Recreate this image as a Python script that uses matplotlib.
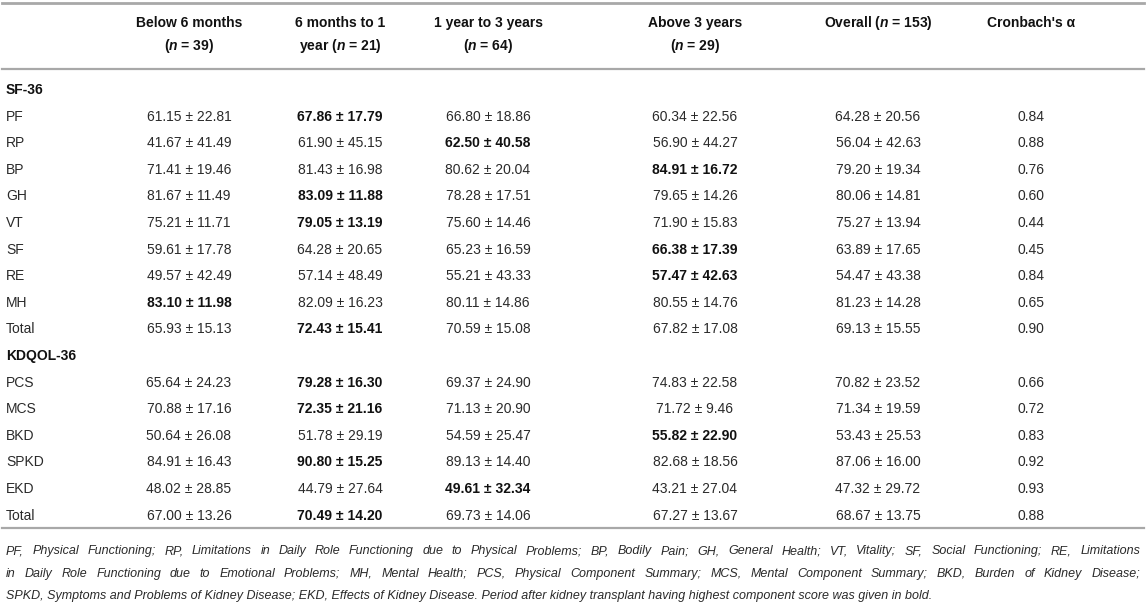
import matplotlib
matplotlib.use('Agg')
import matplotlib.pyplot as plt
from matplotlib.lines import Line2D

plt.rcParams['font.family'] = ['Liberation Sans', 'DejaVu Sans']
plt.rcParams['mathtext.fontset'] = 'custom'
plt.rcParams['mathtext.rm'] = 'Liberation Sans:bold'
plt.rcParams['mathtext.it'] = 'Liberation Sans:italic:bold'
plt.rcParams['mathtext.bf'] = 'Liberation Sans:bold'

# ---------------- data ----------------
column_headers = [
    ["Below 6 months", r"($\it{n}$ = 39)"],
    ["6 months to 1", r"year ($\it{n}$ = 21)"],
    ["1 year to 3 years", r"($\it{n}$ = 64)"],
    ["Above 3 years", r"($\it{n}$ = 29)"],
    [r"Overall ($\it{n}$ = 153)"],
    ["Cronbach's α"],
]

sections = ["SF-36", "KDQOL-36"]

sf36_labels = ["PF", "RP", "BP", "GH", "VT", "SF", "RE", "MH", "Total"]
sf36_means = [
    [61.15, 67.86, 66.80, 60.34, 64.28],
    [41.67, 61.90, 62.50, 56.90, 56.04],
    [71.41, 81.43, 80.62, 84.91, 79.20],
    [81.67, 83.09, 78.28, 79.65, 80.06],
    [75.21, 79.05, 75.60, 71.90, 75.27],
    [59.61, 64.28, 65.23, 66.38, 63.89],
    [49.57, 57.14, 55.21, 57.47, 54.47],
    [83.10, 82.09, 80.11, 80.55, 81.23],
    [65.93, 72.43, 70.59, 67.82, 69.13],
]
sf36_sds = [
    [22.81, 17.79, 18.86, 22.56, 20.56],
    [41.49, 45.15, 40.58, 44.27, 42.63],
    [19.46, 16.98, 20.04, 16.72, 19.34],
    [11.49, 11.88, 17.51, 14.26, 14.81],
    [11.71, 13.19, 14.46, 15.83, 13.94],
    [17.78, 20.65, 16.59, 17.39, 17.65],
    [42.49, 48.49, 43.33, 42.63, 43.38],
    [11.98, 16.23, 14.86, 14.76, 14.28],
    [15.13, 15.41, 15.08, 17.08, 15.55],
]
sf36_alpha = [0.84, 0.88, 0.76, 0.60, 0.44, 0.45, 0.84, 0.65, 0.90]
sf36_bold_col = [1, 2, 3, 1, 1, 3, 3, 0, 1]

kdqol_labels = ["PCS", "MCS", "BKD", "SPKD", "EKD", "Total"]
kdqol_means = [
    [65.64, 79.28, 69.37, 74.83, 70.82],
    [70.88, 72.35, 71.13, 71.72, 71.34],
    [50.64, 51.78, 54.59, 55.82, 53.43],
    [84.91, 90.80, 89.13, 82.68, 87.06],
    [48.02, 44.79, 49.61, 43.21, 47.32],
    [67.00, 70.49, 69.73, 67.27, 68.67],
]
kdqol_sds = [
    [24.23, 16.30, 24.90, 22.58, 23.52],
    [17.16, 21.16, 20.90, 9.46, 19.59],
    [26.08, 29.19, 25.47, 22.90, 25.53],
    [16.43, 15.25, 14.40, 18.56, 16.00],
    [28.85, 27.64, 32.34, 27.04, 29.72],
    [13.26, 14.20, 14.06, 13.67, 13.75],
]
kdqol_alpha = [0.66, 0.72, 0.83, 0.92, 0.93, 0.88]
kdqol_bold_col = [1, 1, 3, 1, 2, 1]

footnote_lines = [
    "PF, Physical Functioning; RP, Limitations in Daily Role Functioning due to Physical Problems; BP, Bodily Pain; GH, General Health; VT, Vitality; SF, Social Functioning; RE, Limitations",
    "in Daily Role Functioning due to Emotional Problems; MH, Mental Health; PCS, Physical Component Summary; MCS, Mental Component Summary; BKD, Burden of Kidney Disease;",
    "SPKD, Symptoms and Problems of Kidney Disease; EKD, Effects of Kidney Disease. Period after kidney transplant having highest component score was given in bold.",
]

# ---------------- layout ----------------
W, H = 1146, 604
fig = plt.figure(figsize=(W / 100, H / 100), dpi=100)

def fx(x):
    return x / W

def fy(y):
    return 1 - y / H

col_x = [189, 340, 488, 695, 878, 1031]
label_x = 6
row_h = 26.6
first_row_y = 94          # baseline of first body row (SF-36)
fs = 10
txt_color = '#2a2a2a'
head_color = '#111111'
line_color = '#a8a8a8'

# horizontal rules
for yy, lw in [(3, 2.0), (69, 1.6), (528, 1.6)]:
    fig.add_artist(Line2D([fx(2), fx(1144)], [fy(yy), fy(yy)], color=line_color, lw=lw))

# header
for cx, lines in zip(col_x, column_headers):
    for i, ln in enumerate(lines):
        fig.text(fx(cx), fy(27 + 23 * i), ln, ha='center', va='baseline',
                 fontsize=fs, fontweight='bold', color=head_color)

def draw_block(start_idx, title, labels, means, sds, alphas, bold_cols):
    y = first_row_y + start_idx * row_h
    fig.text(fx(label_x), fy(y), title, ha='left', va='baseline', fontsize=fs,
             fontweight='bold', color=head_color)
    for r, lab in enumerate(labels):
        y = first_row_y + (start_idx + 1 + r) * row_h
        fig.text(fx(label_x), fy(y), lab, ha='left', va='baseline', fontsize=fs, color=txt_color)
        for c in range(5):
            s = f"{means[r][c]:.2f} ± {sds[r][c]:.2f}"
            b = (c == bold_cols[r])
            fig.text(fx(col_x[c]), fy(y), s, ha='center', va='baseline', fontsize=fs,
                     fontweight='bold' if b else 'normal',
                     color=head_color if b else txt_color)
        fig.text(fx(col_x[5]), fy(y), f"{alphas[r]:.2f}", ha='center', va='baseline',
                 fontsize=fs, color=txt_color)
    return start_idx + 1 + len(labels)

nxt = draw_block(0, sections[0], sf36_labels, sf36_means, sf36_sds, sf36_alpha, sf36_bold_col)
draw_block(nxt, sections[1], kdqol_labels, kdqol_means, kdqol_sds, kdqol_alpha, kdqol_bold_col)

# footnote (justified like the reference)
renderer = fig.canvas.get_renderer()
foot_y = [554, 577, 599]
foot_fs = 9.0
x0, x1 = 6, 1140
for i, ln in enumerate(footnote_lines):
    if i < len(footnote_lines) - 1:
        words = ln.split(' ')
        texts = [fig.text(0, 0, w, fontsize=foot_fs, style='italic', color=txt_color,
                          ha='left', va='baseline') for w in words]
        widths = [t.get_window_extent(renderer).width for t in texts]
        gap = (x1 - x0 - sum(widths)) / (len(words) - 1)
        x = x0
        for t, w in zip(texts, widths):
            t.set_position((fx(x), fy(foot_y[i])))
            x += w + gap
    else:
        fig.text(fx(x0), fy(foot_y[i]), ln, fontsize=foot_fs, style='italic', color=txt_color,
                 ha='left', va='baseline')

fig.savefig('out.png', dpi=100, facecolor='white')
